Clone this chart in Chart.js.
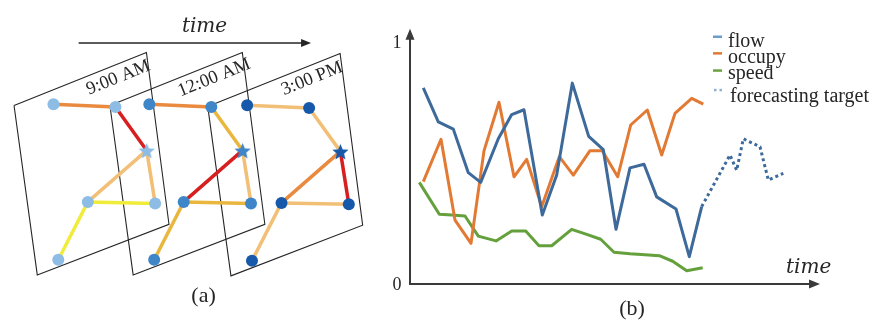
<!DOCTYPE html>
<html>
<head>
<meta charset="utf-8">
<script src="https://cdn.jsdelivr.net/npm/chart.js@4.4.0/dist/chart.umd.min.js"></script>
<style>
  html, body { margin: 0; padding: 0; background: #fff; }
  #wrap { position: relative; width: 877px; height: 323px; overflow: hidden; }
  #graphBox { position: absolute; left: 0; top: 0; width: 380px; height: 323px; }
  #seriesBox { position: absolute; left: 370px; top: 0; width: 507px; height: 323px; }
</style>
</head>
<body>
<div id="wrap">
  <div id="graphBox"><canvas id="graphChart" width="380" height="323"></canvas></div>
  <div id="seriesBox"><canvas id="seriesChart" width="507" height="323"></canvas></div>
</div>
<script>
// ---- (a) road graph at three time steps ----
const panelTimes = ['9:00 AM', '12:00 AM', '3:00 PM'];
const panelShiftX = [0, 99, 200];
const panelShiftY = [0, 0, 1];
// outline of one time slice (TL, TR, BR, BL)
const frameX = [8.3, 145, 168.3, 32.3];
const frameY = [103.3, 48.3, 226.7, 279.3];
// sensor nodes, node 2 is the target (star)
const nodeX = [49, 113, 145.3, 84.5, 154, 54];
const nodeY = [102, 105, 150, 203.5, 205, 263.5];
const starNode = 2;
const edgeFrom = [0, 1, 2, 2, 3, 3];
const edgeTo = [1, 2, 3, 4, 4, 5];
// congestion level of each edge per slice: 0 free ... 4 jammed
const edgeLevel = [
  [3, 4, 2, 2, 0, 0],
  [3, 1, 4, 2, 1, 1],
  [2, 2, 3, 4, 2, 2]
];
const levelColors = ['#f1ec3a', '#e9b63e', '#f2bf76', '#e98a3e', '#d81f1f'];
const nodeColors = ['#8dbce4', '#3f86c8', '#1658a9'];

// ---- (b) traffic series ----
const flowTime = [1.33, 2.83, 4.33, 5.83, 7.07, 8.83, 10.17, 11.4, 13.23, 14.67, 16.23, 17.87, 19.33, 20.6, 22.0, 23.4, 24.67, 26.6, 27.93, 29.17];
const flowValues = [0.81, 0.67, 0.64, 0.46, 0.42, 0.60, 0.70, 0.72, 0.285, 0.45, 0.83, 0.61, 0.555, 0.226, 0.48, 0.495, 0.36, 0.31, 0.113, 0.32];
const occupyTime = [1.33, 3.1, 4.5, 6.1, 7.4, 8.9, 10.4, 11.67, 13.17, 14.93, 16.33, 18.0, 19.23, 20.77, 22.07, 23.73, 25.17, 26.5, 28.17, 29.33];
const occupyValues = [0.423, 0.598, 0.264, 0.168, 0.55, 0.751, 0.443, 0.515, 0.319, 0.526, 0.45, 0.551, 0.551, 0.443, 0.657, 0.719, 0.533, 0.705, 0.767, 0.743];
const speedTime = [0.93, 2.93, 4.17, 5.5, 6.83, 8.6, 10.17, 11.57, 12.9, 14.17, 16.17, 17.67, 19.07, 20.4, 22.0, 23.5, 24.93, 26.27, 27.67, 29.27];
const speedValues = [0.42, 0.288, 0.285, 0.281, 0.198, 0.178, 0.219, 0.219, 0.158, 0.158, 0.226, 0.205, 0.185, 0.131, 0.125, 0.121, 0.117, 0.094, 0.055, 0.067];
const targetTime = [29.17, 32.0, 32.67, 33.33, 35.0, 35.83, 37.33];
const targetValues = [0.32, 0.533, 0.47, 0.60, 0.567, 0.43, 0.457];
const yTicks = [0, 1];

const INK = '#262626';
const SERIF = "'Liberation Serif', 'Times New Roman', serif";
const ITALIC = "italic 20px 'DejaVu Serif', serif";

function starImage(color, size) {
  const c = document.createElement('canvas');
  c.width = size;
  c.height = size;
  const g = c.getContext('2d');
  const r = size / 2, ri = r * 0.45;
  g.beginPath();
  for (let i = 0; i < 10; i++) {
    const rad = i % 2 === 0 ? r : ri;
    const a = -Math.PI / 2 + i * Math.PI / 5;
    const px = r + rad * Math.cos(a), py = r + 1 + rad * Math.sin(a);
    if (i === 0) g.moveTo(px, py); else g.lineTo(px, py);
  }
  g.closePath();
  g.fillStyle = color;
  g.fill();
  return c;
}

const pts = (xs, ys, dx = 0, dy = 0) => xs.map((x, i) => ({ x: x + dx, y: ys[i] + dy }));

const graphDatasets = [];
panelTimes.forEach((label, p) => {
  const dx = panelShiftX[p], dy = panelShiftY[p];
  const frame = pts(frameX, frameY, dx, dy);
  frame.push(frame[0]);
  graphDatasets.push({
    data: frame, showLine: true, borderColor: INK, borderWidth: 1.1,
    pointRadius: 0, order: 3
  });
  edgeFrom.forEach((a, e) => {
    const b = edgeTo[e];
    graphDatasets.push({
      data: pts([nodeX[a], nodeX[b]], [nodeY[a], nodeY[b]], dx, dy),
      showLine: true, borderColor: levelColors[edgeLevel[p][e]], borderWidth: 3.5,
      borderCapStyle: 'round', pointRadius: 0, order: 2
    });
  });
  const star = starImage(nodeColors[p], 17);
  graphDatasets.push({
    data: pts(nodeX, nodeY, dx, dy), showLine: false,
    pointStyle: nodeX.map((_, i) => i === starNode ? star : 'circle'),
    pointRadius: 6, backgroundColor: nodeColors[p], borderWidth: 0, order: 1
  });
});

const graphDecor = {
  id: 'graphDecor',
  afterDatasetsDraw(chart) {
    const { ctx, scales: { x, y } } = chart;
    ctx.save();
    ctx.fillStyle = INK;
    ctx.strokeStyle = INK;
    // time arrow
    const ax0 = x.getPixelForValue(75), ax1 = x.getPixelForValue(315), ay = y.getPixelForValue(38.3);
    ctx.lineWidth = 1.5;
    ctx.beginPath();
    ctx.moveTo(ax0, ay);
    ctx.lineTo(ax1 - 6, ay);
    ctx.stroke();
    ctx.beginPath();
    ctx.moveTo(ax1, ay);
    ctx.lineTo(ax1 - 10, ay - 4);
    ctx.lineTo(ax1 - 10, ay + 4);
    ctx.closePath();
    ctx.fill();
    ctx.font = ITALIC;
    ctx.textAlign = 'center';
    ctx.textBaseline = 'alphabetic';
    ctx.fillText('time', x.getPixelForValue(205), y.getPixelForValue(27));
    // slice labels along the top edge
    const ang = Math.atan2(frameY[1] - frameY[0], frameX[1] - frameX[0]);
    ctx.font = '18.5px ' + SERIF;
    ctx.textBaseline = 'middle';
    panelTimes.forEach((t, p) => {
      ctx.save();
      ctx.translate(x.getPixelForValue(116 + panelShiftX[p]), y.getPixelForValue(74.5 + panelShiftY[p]));
      ctx.rotate(ang);
      ctx.fillText(t, 0, 0);
      ctx.restore();
    });
    ctx.font = '22px ' + SERIF;
    ctx.fillText('(a)', x.getPixelForValue(204), y.getPixelForValue(301));
    ctx.restore();
  }
};

new Chart(document.getElementById('graphChart'), {
  type: 'scatter',
  data: { datasets: graphDatasets },
  options: {
    responsive: false,
    animation: false,
    events: [],
    layout: { padding: 0 },
    scales: {
      x: { type: 'linear', min: 0, max: 380, display: false },
      y: { type: 'linear', min: 0, max: 323, reverse: true, display: false }
    },
    plugins: { legend: { display: false }, tooltip: { enabled: false } }
  },
  plugins: [graphDecor]
});

const seriesDecor = {
  id: 'seriesDecor',
  afterDatasetsDraw(chart) {
    const { ctx, scales: { x, y } } = chart;
    ctx.save();
    const ox = x.getPixelForValue(0), oy = y.getPixelForValue(0);
    const topY = y.getPixelForValue(1.055), endX = x.getPixelForValue(41);
    ctx.strokeStyle = '#3a3a3a';
    ctx.fillStyle = '#3a3a3a';
    ctx.lineWidth = 2;
    ctx.beginPath();
    ctx.moveTo(ox, topY + 8);
    ctx.lineTo(ox, oy);
    ctx.lineTo(endX - 8, oy);
    ctx.stroke();
    ctx.beginPath();
    ctx.moveTo(ox, topY);
    ctx.lineTo(ox - 4.5, topY + 11);
    ctx.lineTo(ox + 4.5, topY + 11);
    ctx.closePath();
    ctx.fill();
    ctx.beginPath();
    ctx.moveTo(endX, oy);
    ctx.lineTo(endX - 11, oy - 4.5);
    ctx.lineTo(endX - 11, oy + 4.5);
    ctx.closePath();
    ctx.fill();
    // tick labels
    ctx.fillStyle = INK;
    ctx.font = '18px ' + SERIF;
    ctx.textAlign = 'center';
    ctx.textBaseline = 'middle';
    yTicks.forEach(v => ctx.fillText(String(v), ox - 13, y.getPixelForValue(v) + 1));
    // legend
    const markY = [36.7, 53.3, 70.5, 90];
    const textY = [46.7, 62.8, 79.3, 101.5];
    ctx.font = '20px ' + SERIF;
    ctx.textAlign = 'left';
    ctx.textBaseline = 'alphabetic';
    chart.data.datasets.forEach((ds, i) => {
      ctx.fillStyle = ds.legendColor;
      if (ds.borderDash) {
        ctx.fillRect(344, markY[i] - 1.2, 2.5, 2.5);
        ctx.fillRect(349.5, markY[i] - 1.2, 2.5, 2.5);
      } else {
        ctx.fillRect(343, markY[i] - 1.2, 9, 2.5);
      }
      ctx.fillStyle = INK;
      ctx.fillText(ds.label, ds.borderDash ? 360 : 358, textY[i]);
    });
    // axis title and panel label
    ctx.font = ITALIC;
    ctx.fillText('time', 416, 273);
    ctx.font = '22px ' + SERIF;
    ctx.textAlign = 'center';
    ctx.textBaseline = 'middle';
    ctx.fillText('(b)', 262, 309);
    ctx.restore();
  }
};

const lineStyle = { borderWidth: 3, pointRadius: 0, showLine: true, borderJoinStyle: 'round', fill: false, tension: 0 };

new Chart(document.getElementById('seriesChart'), {
  type: 'scatter',
  data: {
    datasets: [
      { label: 'flow', data: pts(flowTime, flowValues), borderColor: '#3d6a9a', legendColor: '#6d9ccb', ...lineStyle },
      { label: 'occupy', data: pts(occupyTime, occupyValues), borderColor: '#e27a33', legendColor: '#e07a34', ...lineStyle },
      { label: 'speed', data: pts(speedTime, speedValues), borderColor: '#64a03c', legendColor: '#6aa33f', ...lineStyle },
      { label: 'forecasting target', data: pts(targetTime, targetValues), borderColor: '#3d6a9a', legendColor: '#8fb0d2', ...lineStyle, borderDash: [3, 3], borderJoinStyle: 'miter' }
    ]
  },
  options: {
    responsive: false,
    animation: false,
    events: [],
    layout: { padding: { left: 40, right: 57, top: 42, bottom: 39 } },
    scales: {
      x: { type: 'linear', min: 0, max: 41, display: false },
      y: { type: 'linear', min: 0, max: 1, display: false }
    },
    plugins: { legend: { display: false }, tooltip: { enabled: false } }
  },
  plugins: [seriesDecor]
});
</script>
</body>
</html>
